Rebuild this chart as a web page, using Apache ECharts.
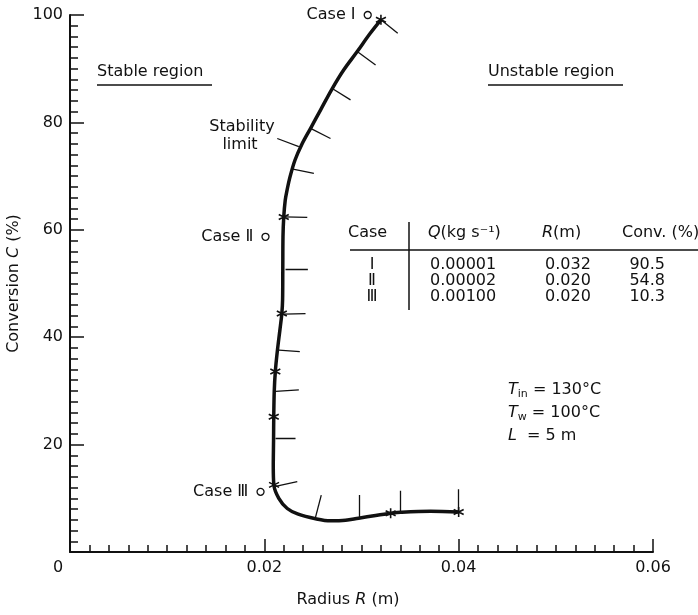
<!DOCTYPE html>
<html>
<head>
<meta charset="utf-8">
<script src="https://cdn.jsdelivr.net/npm/echarts@6/dist/echarts.min.js"></script>
<style>
  html, body { margin: 0; padding: 0; background: #fff; }
  #chart { width: 698px; height: 615px; }
</style>
</head>
<body>
<div id="chart"></div>
<script>
// stability-limit curve, radius R (m) vs conversion C (%)
var curveR = [0.0320, 0.0309, 0.02956, 0.02818, 0.02699, 0.02578, 0.02476, 0.02383, 0.02316, 0.02265, 0.02234, 0.02215,
              0.0220, 0.02192, 0.0219, 0.02188, 0.0218, 0.0216, 0.02135, 0.02113, 0.02102, 0.02097, 0.02095, 0.02092, 0.02098,
              0.02149, 0.02236, 0.02342, 0.02527, 0.02682, 0.02836, 0.0297, 0.03145, 0.033, 0.03402, 0.03711, 0.0400];
var curveC = [99.1, 96.6, 93.2, 89.8, 86.3, 82.3, 78.9, 75.8, 73.0, 69.9, 67.4, 65.5,
              62.4, 58.7, 52.5, 47.0, 44.4, 41.3, 37.6, 33.6, 29.9, 25.2, 20.9, 15.9, 12.5,
              10.0, 8.1, 7.1, 6.2, 5.8, 5.9, 6.3, 6.8, 7.2, 7.4, 7.6, 7.45];

// computed points (asterisks)
var starR = [0.0320, 0.0220, 0.0218, 0.02113, 0.02097, 0.0210, 0.0330, 0.0400];
var starC = [99.1, 62.4, 44.4, 33.6, 25.2, 12.5, 7.2, 7.45];

// hatch marks on the unstable side: start and end points
var hatchR0 = [0.0320, 0.02956, 0.02699, 0.02476, 0.02295, 0.02201, 0.02218, 0.02201, 0.02149, 0.02115, 0.02115, 0.02115, 0.02527, 0.02973, 0.03402, 0.03996];
var hatchC0 = [99.1, 93.2, 86.3, 78.9, 71.3, 62.4, 52.7, 44.3, 37.6, 29.9, 21.2, 12.2, 6.5, 6.5, 7.4, 7.45];
var hatchR1 = [0.03373, 0.03145, 0.02887, 0.02681, 0.0251, 0.02442, 0.02448, 0.02424, 0.02365, 0.02355, 0.02321, 0.02339, 0.02586, 0.02973, 0.03402, 0.03996];
var hatchC1 = [96.6, 90.7, 84.2, 77.0, 70.5, 62.3, 52.7, 44.4, 37.3, 30.2, 21.2, 13.1, 10.6, 10.6, 11.4, 11.7];

// leader line for the "Stability limit" note
var leaderR = [0.02133, 0.02355];
var leaderC = [77.0, 75.5];

// case markers
var caseNames = ['Case Ⅰ', 'Case Ⅱ', 'Case Ⅲ'];
var caseR = [0.03064, 0.02012, 0.01961];
var caseC = [100.0, 58.7, 11.2];

// table
var tableCase = ['Ⅰ', 'Ⅱ', 'Ⅲ'];
var tableQ = ['0.00001', '0.00002', '0.00100'];
var tableR = ['0.032', '0.020', '0.020'];
var tableConv = ['90.5', '54.8', '10.3'];

// axis ranges
var xTicks = [0, 0.02, 0.04, 0.06];
var yTicks = [0, 20, 40, 60, 80, 100];

var chart = echarts.init(document.getElementById('chart'));

var FONT = 'DejaVu Sans';
var ink = '#111';

var hatchData = [];
for (var i = 0; i < hatchR0.length; i++) {
    hatchData.push({coords: [[hatchR0[i], hatchC0[i]], [hatchR1[i], hatchC1[i]]]});
}
hatchData.push({coords: [[leaderR[0], leaderC[0]], [leaderR[1], leaderC[1]]]});

var graphics = [];
function txt(x, y, text, align, extra) {
    var st = {x: x, y: y, text: text, fill: ink, font: '16px "' + FONT + '"',
              textAlign: align || 'left', textVerticalAlign: 'middle'};
    if (extra) { for (var k in extra) st[k] = extra[k]; }
    graphics.push({type: 'text', style: st});
}
function seg(x1, y1, x2, y2, w) {
    graphics.push({type: 'line', shape: {x1: x1, y1: y1, x2: x2, y2: y2},
                   style: {stroke: ink, lineWidth: w || 1.5}});
}

// region labels
txt(97, 72, 'Stable region');
seg(97, 85, 212, 85);
txt(488, 72, 'Unstable region');
seg(488, 85, 623, 85);
txt(242, 127, 'Stability', 'center');
txt(240, 145, 'limit', 'center');

// table
var headRich = {i: {fontStyle: 'italic', fontSize: 16, fontFamily: FONT}, n: {fontSize: 16, fontFamily: FONT}};
txt(348, 233, 'Case');
txt(428, 233, '{i|Q}{n|(kg s⁻¹)}', 'left', {rich: headRich});
txt(542, 233, '{i|R}{n|(m)}', 'left', {rich: headRich});
txt(622, 233, 'Conv. (%)');
seg(350, 250, 698, 250);
seg(409, 222, 409, 310);
var rowY = [265, 281, 297];
for (var r = 0; r < tableCase.length; r++) {
    txt(372, rowY[r], tableCase[r], 'center');
    txt(430, rowY[r], tableQ[r]);
    txt(545, rowY[r], tableR[r]);
    txt(665, rowY[r], tableConv[r], 'right');
}

// operating conditions
var condRich = {
    i: {fontStyle: 'italic', fontSize: 16, fontFamily: FONT},
    s: {fontSize: 11, fontFamily: FONT, padding: [9, 0, 0, 0]},
    n: {fontSize: 16, fontFamily: FONT}
};
txt(508, 390, '{i|T}{s|in}{n| = 130°C}', 'left', {rich: condRich});
txt(508, 413, '{i|T}{s|w}{n| = 100°C}', 'left', {rich: condRich});
txt(508, 436, '{i|L}{n|  = 5 m}', 'left', {rich: condRich});

var option = {
    animation: false,
    backgroundColor: '#fff',
    textStyle: {fontFamily: FONT, color: ink},
    grid: {left: 70, right: 45, top: 15, bottom: 63, containLabel: false, outerBoundsMode: 'none'},
    xAxis: {
        type: 'value',
        min: xTicks[0],
        max: xTicks[xTicks.length - 1],
        interval: 0.02,
        name: '{n|Radius }{i|R}{n| (m)}',
        nameLocation: 'middle',
        nameGap: 40,
        nameTextStyle: {
            padding: [0, 27, 0, 0],
            rich: {n: {fontSize: 16, color: ink, fontFamily: FONT},
                   i: {fontSize: 16, color: ink, fontFamily: FONT, fontStyle: 'italic'}}
        },
        splitLine: {show: false},
        axisLine: {lineStyle: {color: ink, width: 2}},
        axisTick: {inside: true, length: 13, lineStyle: {color: ink, width: 1.5}},
        minorTick: {show: true, splitNumber: 10, length: 7, lineStyle: {color: ink, width: 1.5}},
        axisLabel: {
            color: ink, fontSize: 16, margin: 8,
            formatter: function (v) {
                if (v === 0) return '{z|0}';
                return v.toFixed(2);
            },
            rich: {z: {fontSize: 16, color: ink, padding: [0, 24, 0, 0]}}
        }
    },
    yAxis: {
        type: 'value',
        min: yTicks[0],
        max: yTicks[yTicks.length - 1],
        interval: 20,
        name: '{n|Conversion }{i|C}{n| (%)}',
        nameLocation: 'middle',
        nameGap: 47,
        nameTextStyle: {
            rich: {n: {fontSize: 16, color: ink, fontFamily: FONT},
                   i: {fontSize: 16, color: ink, fontFamily: FONT, fontStyle: 'italic'}}
        },
        splitLine: {show: false},
        axisLine: {lineStyle: {color: ink, width: 2}},
        axisTick: {inside: true, length: 14, lineStyle: {color: ink, width: 1.5}},
        minorTick: {show: true, splitNumber: 10, length: 8, lineStyle: {color: ink, width: 1.5}},
        axisLabel: {
            color: ink, fontSize: 16, margin: 7,
            formatter: function (v) { return v === 0 ? '' : String(v); }
        }
    },
    series: [
        {
            type: 'lines',
            coordinateSystem: 'cartesian2d',
            silent: true,
            lineStyle: {color: ink, width: 1.3, opacity: 1},
            data: hatchData
        },
        {
            name: 'stability limit',
            type: 'line',
            data: curveR.map(function (x, i) { return [x, curveC[i]]; }),
            smooth: 0.35,
            showSymbol: false,
            lineStyle: {color: ink, width: 3.5},
            z: 3
        },
        {
            type: 'scatter',
            data: starR.map(function (x, i) { return [x, starC[i]]; }),
            symbol: 'path://M0,-5L0,5M-4.33,-2.5L4.33,2.5M-4.33,2.5L4.33,-2.5',
            symbolSize: 10,
            itemStyle: {color: 'none', borderColor: ink, borderWidth: 1.6, opacity: 1},
            z: 4
        },
        {
            type: 'scatter',
            data: caseR.map(function (x, i) { return {value: [x, caseC[i]], name: caseNames[i]}; }),
            symbol: 'circle',
            symbolSize: 7,
            clip: false,
            itemStyle: {color: '#fff', borderColor: ink, borderWidth: 1.3, opacity: 1},
            label: {
                show: true, position: 'left', distance: 8,
                formatter: function (p) { return p.name; },
                color: ink, fontSize: 16, fontFamily: FONT
            },
            z: 4
        }
    ],
    graphic: graphics
};

chart.setOption(option);
</script>
</body>
</html>
